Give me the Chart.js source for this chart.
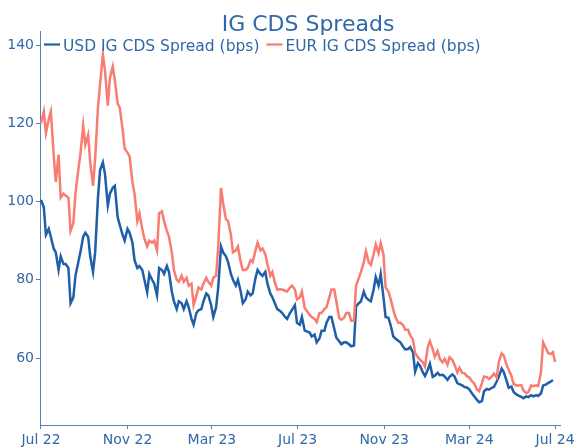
<!DOCTYPE html>
<html>
<head>
<meta charset="utf-8">
<script src="https://cdn.jsdelivr.net/npm/chart.js@4.4.1/dist/chart.umd.min.js"></script>
<style>
    body { margin: 0; background: #fff; }
</style>
</head>
<body>
<canvas id="myChart" width="580" height="448"></canvas>
<script>
// observations (Tue / Fri)
const dates = [
    '2022-07-01','2022-07-05','2022-07-08','2022-07-12','2022-07-15','2022-07-19','2022-07-22','2022-07-26','2022-07-29',
    '2022-08-02','2022-08-05','2022-08-09','2022-08-12','2022-08-16','2022-08-19','2022-08-23','2022-08-26','2022-08-30',
    '2022-09-02','2022-09-06','2022-09-09','2022-09-13','2022-09-16','2022-09-20','2022-09-23','2022-09-27','2022-09-30',
    '2022-10-04','2022-10-07','2022-10-11','2022-10-14','2022-10-18','2022-10-21','2022-10-25','2022-10-28',
    '2022-11-01','2022-11-04','2022-11-08','2022-11-11','2022-11-15','2022-11-18','2022-11-22','2022-11-25','2022-11-29',
    '2022-12-02','2022-12-06','2022-12-09','2022-12-13','2022-12-16','2022-12-20','2022-12-23','2022-12-27','2022-12-30',
    '2023-01-03','2023-01-06','2023-01-10','2023-01-13','2023-01-17','2023-01-20','2023-01-24','2023-01-27','2023-01-31',
    '2023-02-03','2023-02-07','2023-02-10','2023-02-14','2023-02-17','2023-02-21','2023-02-24','2023-02-28',
    '2023-03-03','2023-03-07','2023-03-10','2023-03-14','2023-03-17','2023-03-21','2023-03-24','2023-03-28','2023-03-31',
    '2023-04-04','2023-04-07','2023-04-11','2023-04-14','2023-04-18','2023-04-21','2023-04-25','2023-04-28',
    '2023-05-02','2023-05-05','2023-05-09','2023-05-12','2023-05-16','2023-05-19','2023-05-23','2023-05-26','2023-05-30',
    '2023-06-02','2023-06-06','2023-06-09','2023-06-13','2023-06-16','2023-06-20','2023-06-23','2023-06-27','2023-06-30',
    '2023-07-04','2023-07-07','2023-07-11','2023-07-14','2023-07-18','2023-07-21','2023-07-25','2023-07-28',
    '2023-08-01','2023-08-04','2023-08-08','2023-08-11','2023-08-15','2023-08-18','2023-08-22','2023-08-25','2023-08-29',
    '2023-09-01','2023-09-05','2023-09-08','2023-09-12','2023-09-15','2023-09-19','2023-09-22','2023-09-26','2023-09-29',
    '2023-10-03','2023-10-06','2023-10-10','2023-10-13','2023-10-17','2023-10-20','2023-10-24','2023-10-27','2023-10-31',
    '2023-11-03','2023-11-07','2023-11-10','2023-11-14','2023-11-17','2023-11-21','2023-11-24','2023-11-28',
    '2023-12-01','2023-12-05','2023-12-08','2023-12-12','2023-12-15','2023-12-19','2023-12-22','2023-12-26','2023-12-29',
    '2024-01-02','2024-01-05','2024-01-09','2024-01-12','2024-01-16','2024-01-19','2024-01-23','2024-01-26','2024-01-30',
    '2024-02-02','2024-02-06','2024-02-09','2024-02-13','2024-02-16','2024-02-20','2024-02-23','2024-02-27',
    '2024-03-01','2024-03-05','2024-03-08','2024-03-12','2024-03-15','2024-03-19','2024-03-22','2024-03-26','2024-03-29',
    '2024-04-02','2024-04-05','2024-04-09','2024-04-12','2024-04-16','2024-04-19','2024-04-23','2024-04-26','2024-04-30',
    '2024-05-03','2024-05-07','2024-05-10','2024-05-14','2024-05-17','2024-05-21','2024-05-24','2024-05-28','2024-05-31',
    '2024-06-04','2024-06-07','2024-06-11','2024-06-14','2024-06-18','2024-06-21','2024-06-25','2024-06-28',
    '2024-07-01'
];

// USD IG CDS spread, bps
const usdSpread = [
    100.4, 98.5, 91.5, 93, 91, 88, 87, 82.5, 86, 84, 84, 83, 74, 75.5, 81, 84.5, 87, 91, 92, 91,
    86, 82, 87, 101, 108, 110, 107, 99, 102, 103.5, 104, 96, 94, 91.5, 90, 93, 92, 89.5, 85, 83,
    83.5, 82.5, 80, 76.8, 81.5, 80, 79, 76, 83, 82.5, 81.5, 83.5, 82, 77, 74.5, 72.5, 74.5, 74, 72.5, 74.5,
    73, 70, 68.5, 71.5, 72.2, 72.5, 74.5, 76.5, 76, 73.5, 70.5, 73, 78, 88.5, 87, 86, 84.5, 81.5, 80, 78.5,
    80, 77, 74, 75, 77, 76, 76.5, 80.5, 82.5, 81.5, 81, 82, 79, 76.5, 75.5, 73.8, 72.5, 72, 71.5, 70.5,
    70, 71.5, 72.3, 73.5, 69, 68.5, 70.5, 67, 66.8, 66.5, 65.5, 66, 64, 65, 67, 67, 69, 70.5, 70.5, 67.5,
    65.2, 64.3, 63.5, 64, 64, 63.5, 63, 63.2, 73.2, 74, 74.5, 77, 75.5, 74.8, 74.5, 77.5, 80.7, 78.5, 81.5, 75.5,
    70.5, 70.3, 68.5, 65.5, 65, 64.4, 64, 62.9, 62.2, 62.3, 62.8, 61.4, 56.5, 58.7, 58, 56.3, 55.4, 57, 58.5, 55.2,
    55.5, 56.2, 55.6, 55.7, 55.3, 54.4, 55.2, 55.8, 55.3, 53.6, 53.3, 53, 52.6, 52.4, 52, 50.9, 50.2, 49.3, 48.7, 49,
    51.5, 52.1, 51.9, 52.4, 52.6, 54, 55.2, 57.3, 56.4, 54.2, 52.4, 52.7, 51.3, 50.7, 50.4, 50.1, 49.7, 50.2, 50, 50.5,
    50.2, 50.5, 50.3, 51, 53, 53.2, 53.6, 54, 54.4, null
];

// EUR IG CDS spread, bps
const eurSpread = [
    120, 123, 117.5, 121, 123, 112, 105, 112, 101, 102, 101.5, 101, 92.5, 94.5, 102, 108, 112, 119.5, 114.5, 117,
    110, 104, 111, 124, 130, 137.5, 133.5, 124.5, 131.5, 134.5, 131, 125, 124, 118.5, 113.5, 112.5, 111.5, 105, 102, 95,
    97, 93, 90.5, 88.5, 90, 89.5, 90, 87.5, 97, 97.5, 95, 92.5, 91, 87, 82.5, 80, 79.5, 81, 79.5, 80.5,
    78.5, 79, 73.5, 76, 78, 77.5, 79, 80.5, 79.5, 78.5, 80.5, 81, 88.5, 103.5, 99.5, 95.5, 95, 91.5, 87, 87.5,
    88.5, 84.5, 82.5, 82.5, 83, 85, 84.5, 87.5, 89.5, 87.5, 88, 86.5, 84, 81, 82, 79, 77.5, 77.6, 77.5, 77.2,
    77, 78, 78.5, 77.5, 75, 75.5, 77, 72.8, 72, 71, 70.5, 70, 69.2, 71.5, 71.5, 72.5, 73, 75.5, 77.5, 77.5,
    74.5, 70.2, 69.8, 70.3, 71.5, 71.5, 69.5, 69.5, 78.5, 80.5, 82, 84.5, 87.3, 84.5, 83.8, 86.5, 89, 86.8, 89.4, 86.5,
    78, 77, 75.2, 72.3, 70.5, 69, 69, 68.4, 67.2, 67.2, 65.8, 64.7, 61.2, 60.2, 59.6, 58.9, 57.8, 62.8, 64.3, 62.2,
    60.3, 61.8, 59.8, 58.9, 59.8, 58.3, 60.2, 59.5, 58.3, 56.3, 57.5, 56.2, 56.1, 55.3, 55, 54, 53.5, 51.9, 51.5, 53.6,
    55.3, 55.1, 54.6, 55.3, 56, 55, 59, 61.2, 60.6, 58.3, 57, 55.4, 53.4, 53, 53, 53.1, 51.7, 51, 51.3, 53,
    52.8, 53, 52.8, 56.5, 64, 62.5, 61.3, 61, 61.5, 59
];

const tickDates = ['2022-07-01', '2022-11-01', '2023-03-01', '2023-07-01', '2023-11-01', '2024-03-01', '2024-07-01'];
const tickLabels = ['Jul 22', 'Nov 22', 'Mar 23', 'Jul 23', 'Nov 23', 'Mar 24', 'Jul 24'];
const yTicks = [60, 80, 100, 120, 140];

const chartTitle = 'IG CDS Spreads';
const seriesNames = ['USD IG CDS Spread (bps)', 'EUR IG CDS Spread (bps)'];

const DAY = 86400000;
const toTime = (d) => Date.parse(d + 'T00:00:00Z');
const startTime = toTime('2022-07-01');

const textColor = '#3068a8';
const axisColor = '#5580b8';
const usdColor = '#1f5ea8';
const eurColor = '#f97c72';
const fontFamily = '"DejaVu Sans", Verdana, sans-serif';

const toPoints = (values) => dates.map((d, i) => ({ x: toTime(d), y: values[i] }));

// title + legend drawn plotly style, legend sits over the top of the plot
const titleLegend = {
    id: 'titleLegend',
    afterDraw(chart) {
        const c = chart.ctx;
        c.save();
        c.fillStyle = textColor;
        c.font = '22px ' + fontFamily;
        c.textAlign = 'center';
        c.textBaseline = 'alphabetic';
        c.fillText(chartTitle, 308, 31);

        c.font = '15.5px ' + fontFamily;
        c.textAlign = 'left';
        let x = 44;
        const colors = [usdColor, eurColor];
        seriesNames.forEach((name, i) => {
            c.strokeStyle = colors[i];
            c.lineWidth = 2.2;
            c.beginPath();
            c.moveTo(x, 44.5);
            c.lineTo(x + 16, 44.5);
            c.stroke();
            c.fillText(name, x + 19, 50.5);
            x += 19 + c.measureText(name).width + 7;
        });
        c.restore();
    }
};

const ctx = document.getElementById('myChart').getContext('2d');
const myChart = new Chart(ctx, {
    type: 'line',
    data: {
        datasets: [
            {
                label: seriesNames[0],
                data: toPoints(usdSpread),
                borderColor: usdColor,
                backgroundColor: usdColor,
                borderWidth: 2.5,
                pointRadius: 0,
                tension: 0,
                order: 1
            },
            {
                label: seriesNames[1],
                data: toPoints(eurSpread),
                borderColor: eurColor,
                backgroundColor: eurColor,
                borderWidth: 2.5,
                pointRadius: 0,
                tension: 0,
                order: 0
            }
        ]
    },
    options: {
        responsive: false,
        animation: false,
        layout: { padding: { top: 31, right: 20, left: 0, bottom: 0 } },
        plugins: {
            legend: { display: false },
            title: { display: false },
            tooltip: { enabled: false }
        },
        scales: {
            x: {
                type: 'linear',
                min: startTime - 1.42 * DAY,
                max: startTime + 738 * DAY,
                afterBuildTicks: (scale) => {
                    scale.ticks = tickDates.map(d => ({ value: toTime(d) }));
                },
                afterFit: (scale) => { scale.height = 23; },
                ticks: {
                    autoSkip: false,
                    maxRotation: 0,
                    padding: 3,
                    color: textColor,
                    font: { family: fontFamily, size: 14 },
                    callback: (value) => {
                        const i = tickDates.findIndex(d => toTime(d) === value);
                        return i >= 0 ? tickLabels[i] : '';
                    }
                },
                grid: { drawOnChartArea: false, tickLength: 4, color: axisColor },
                border: { color: axisColor, width: 1 }
            },
            y: {
                min: 42.88,
                max: 143.58,
                afterBuildTicks: (scale) => {
                    scale.ticks = yTicks.map(v => ({ value: v }));
                },
                afterFit: (scale) => { scale.width = 40; },
                ticks: {
                    padding: 2,
                    color: textColor,
                    font: { family: fontFamily, size: 14 }
                },
                grid: { drawOnChartArea: false, tickLength: 4, color: axisColor },
                border: { color: axisColor, width: 1 }
            }
        }
    },
    plugins: [titleLegend]
});
</script>
</body>
</html>
